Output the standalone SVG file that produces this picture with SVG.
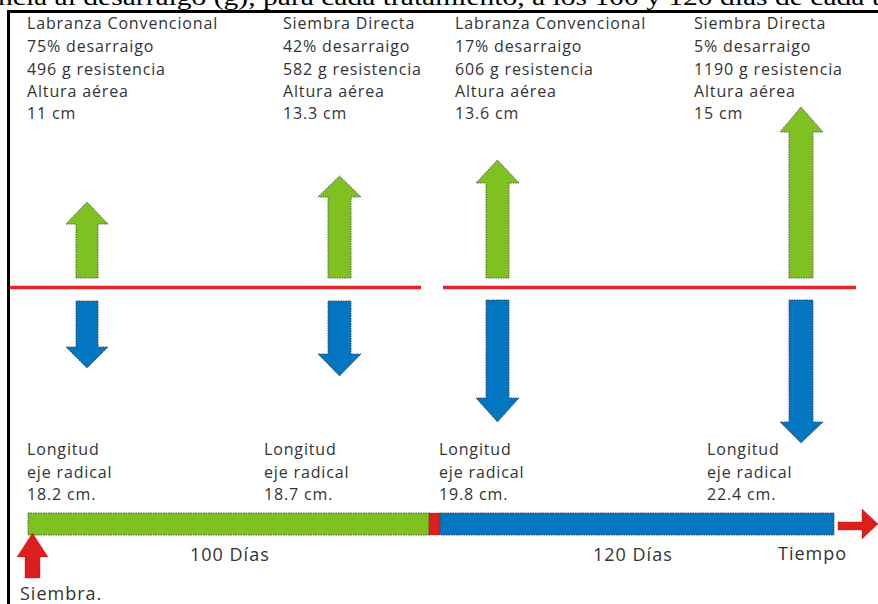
<svg xmlns="http://www.w3.org/2000/svg" width="878" height="604" viewBox="0 0 878 604">
<style>
.t{font-family:"Open Sans","Noto Sans","Liberation Sans",sans-serif;font-size:16px;letter-spacing:0.85px;fill:#333}
.b{font-size:18px;letter-spacing:1px}
.g{fill:#80c122;stroke:#5a5a5a;stroke-width:1;stroke-dasharray:1.5 1}
.u{fill:#0276c0;stroke:#4a4a4a;stroke-width:1;stroke-dasharray:1.5 1}
.r{fill:#dc1f1c;stroke:#b01010;stroke-width:0.6;stroke-dasharray:1.5 1}
.rl{stroke:#e0262b;stroke-width:3.5}
</style>
<rect width="878" height="604" fill="#fff"/>
<text x="-2" y="5" font-family="Liberation Serif,serif" font-size="24" fill="#000" textLength="882" lengthAdjust="spacingAndGlyphs">ncia al desarraigo (g), para cada tratamiento, a los 100 y 120 días de cada t</text>
<g id="frame" stroke="#000" stroke-width="3">
<line x1="7" y1="11.5" x2="878" y2="11.5"/>
<line x1="8.5" y1="10" x2="8.5" y2="604"/>
</g>
<g id="labels-top" class="t">
<text x="27" y="29">Labranza Convencional</text>
<text x="27" y="52">75% desarraigo</text>
<text x="27" y="75">496 g resistencia</text>
<text x="27" y="97">Altura aérea</text>
<text x="27" y="119">11 cm</text>
<text x="283" y="29">Siembra Directa</text>
<text x="283" y="52">42% desarraigo</text>
<text x="283" y="75">582 g resistencia</text>
<text x="283" y="97">Altura aérea</text>
<text x="283" y="119">13.3 cm</text>
<text x="455" y="29">Labranza Convencional</text>
<text x="455" y="52">17% desarraigo</text>
<text x="455" y="75">606 g resistencia</text>
<text x="455" y="97">Altura aérea</text>
<text x="455" y="119">13.6 cm</text>
<text x="694" y="29">Siembra Directa</text>
<text x="694" y="52">5% desarraigo</text>
<text x="694" y="75">1190 g resistencia</text>
<text x="694" y="97">Altura aérea</text>
<text x="694" y="119">15 cm</text>
</g>
<g id="ground">
<line class="rl" x1="10" y1="287.5" x2="421" y2="287.5"/>
<line class="rl" x1="443" y1="287.5" x2="856" y2="287.5"/>
</g>
<g id="arrows">
<polygon class="g" points="76,278 76,224 66,224 87,202 108,224 98,224 98,278"/>
<polygon class="u" points="76,301 98,301 98,347 108,347 87,368 66,347 76,347"/>
<polygon class="g" points="328,278 328,197 318,197 339.5,176 361,197 351,197 351,278"/>
<polygon class="u" points="328,301 351,301 351,354 361,354 339.5,376 318,354 328,354"/>
<polygon class="g" points="486,278 486,183 476,183 497.5,160 519,183 509,183 509,278"/>
<polygon class="u" points="486,300 509,300 509,398 519,398 497.5,422 476,398 486,398"/>
<polygon class="g" points="789,278 789,132 780,132 801,107 823,132 813,132 813,278"/>
<polygon class="u" points="789,300 813,300 813,422 823,422 801,443 780,422 789,422"/>
</g>
<g id="labels-bottom" class="t">
<text x="27" y="455">Longitud</text>
<text x="27" y="478">eje radical</text>
<text x="27" y="500">18.2 cm.</text>
<text x="264" y="455">Longitud</text>
<text x="264" y="478">eje radical</text>
<text x="264" y="500">18.7 cm.</text>
<text x="439" y="455">Longitud</text>
<text x="439" y="478">eje radical</text>
<text x="439" y="500">19.8 cm.</text>
<text x="707" y="455">Longitud</text>
<text x="707" y="478">eje radical</text>
<text x="707" y="500">22.4 cm.</text>
</g>
<g id="timeline">
<rect class="g" x="28" y="513" width="401" height="22"/>
<rect class="r" x="429" y="513" width="11" height="22"/>
<rect class="u" x="440" y="513" width="394" height="22"/>
<polygon class="r" points="838,522 862,522 862,509 878,524 862,539 862,530 838,530"/>
<polygon class="r" points="25,578 25,557 17,557 32.5,533 48,557 40,557 40,578"/>
</g>
<g id="labels-time" class="t b">
<text x="190" y="561">100 Días</text>
<text x="593" y="561">120 Días</text>
<text x="778" y="560">Tiempo</text>
<text x="20" y="600">Siembra.</text>
</g>
</svg>
